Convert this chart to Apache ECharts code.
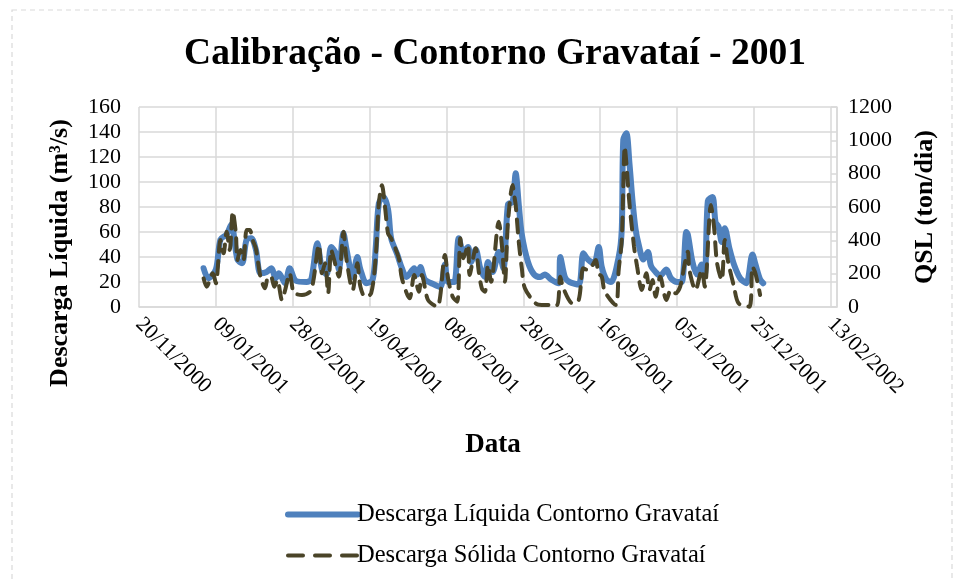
<!DOCTYPE html>
<html>
<head>
<meta charset="utf-8">
<script src="https://cdn.jsdelivr.net/npm/echarts@6/dist/echarts.min.js"></script>
<style>
  html, body { margin: 0; padding: 0; background: #fff; }
  #chart { width: 960px; height: 581px; }
</style>
</head>
<body>
<div id="chart"></div>
<script>
// x values are day of year 2001 (1 = 01/01/2001)
var qDay = [1, 4, 9, 12, 16, 19, 23, 26, 29, 32, 35, 38, 42, 45, 48, 50, 54, 57, 61, 68,
  71, 75, 78, 81, 84, 87, 89, 92, 94, 98, 101, 103, 107, 111, 113, 115, 118, 121, 123, 127,
  130, 133, 138, 140, 142, 145, 151, 155, 158, 160, 164, 167, 170, 173, 175, 178, 181, 184, 186, 189,
  193, 196, 199, 202, 204, 206, 208, 212, 216, 220, 223, 227, 232, 233, 236, 239, 245, 248, 251, 255,
  258, 260, 263, 266, 271, 273, 274, 276, 278, 280, 282, 284, 287, 290, 292, 295, 298, 302, 305, 309,
  312, 315, 316, 319, 322, 325, 327, 329, 332, 334, 336, 338, 340, 343, 346, 350, 354, 358, 360, 363, 365];
var qValue = [31, 23, 30, 54, 58, 66, 38, 35, 54, 55, 46, 27, 28, 31, 23, 27, 19, 31, 21, 20,
  22, 51, 30, 26, 48, 43, 30, 59, 46, 24, 40, 30, 19, 22, 48, 83, 88, 78, 55, 42,
  31, 24, 31, 26, 32, 22, 18, 16, 34, 20, 20, 55, 44, 48, 36, 46, 31, 24, 36, 28,
  44, 31, 82, 84, 107, 82, 58, 36, 26, 24, 26, 22, 19, 40, 24, 20, 18, 43, 38, 35,
  48, 32, 22, 20, 40, 62, 134, 139, 115, 85, 62, 50, 38, 44, 33, 28, 25, 30, 23, 20,
  20, 60, 58, 36, 26, 34, 26, 85, 88, 68, 64, 52, 63, 47, 34, 23, 19, 42, 34, 22, 19];

var qslDay = [1, 3, 7, 9, 12, 14, 16, 18, 20, 22, 23, 25, 27, 29, 31, 33, 35, 38, 41, 43,
  45, 47, 49, 52, 54, 57, 59, 60, 65, 71, 76, 78, 80, 82, 84, 86, 89, 92, 94, 98,
  101, 103, 106, 110, 113, 115, 117, 119, 121, 123, 128, 130, 135, 138, 141, 143, 147, 153, 158, 160,
  163, 166, 168, 170, 173, 174, 178, 180, 182, 184, 186, 188, 193, 195, 197, 199, 202, 203, 204, 206,
  208, 210, 217, 221, 227, 231, 233, 235, 241, 245, 248, 251, 254, 256, 258, 260, 262, 269, 271, 273,
  275, 276, 278, 281, 283, 286, 289, 291, 293, 295, 298, 302, 305, 308, 311, 314, 316, 317, 321, 325,
  327, 331, 333, 335, 338, 340, 342, 346, 349, 356, 358, 360, 363];
var qslValue = [172, 122, 202, 142, 402, 322, 452, 342, 572, 442, 282, 342, 282, 462, 462, 400, 352, 182, 112, 182,
  180, 122, 160, 42, 100, 202, 102, 82, 72, 102, 372, 202, 262, 82, 342, 280, 182, 452, 282, 102,
  262, 122, 62, 82, 302, 622, 730, 602, 440, 412, 292, 172, 52, 192, 92, 192, 42, 2, 312, 172,
  62, 32, 412, 292, 372, 192, 352, 212, 112, 92, 252, 152, 512, 372, 152, 512, 732, 672, 612, 392,
  232, 112, 22, 12, 12, 12, 182, 112, 22, 42, 232, 222, 252, 282, 200, 182, 92, 12, 222, 402,
  962, 862, 622, 362, 242, 102, 202, 102, 162, 62, 182, 42, 102, 82, 122, 262, 332, 222, 102, 222,
  122, 612, 482, 262, 162, 402, 280, 122, 22, 2, 242, 200, 72];

var seriesNames = ['Descarga Líquida Contorno Gravataí', 'Descarga Sólida Contorno Gravataí'];

// axis counts days from 20/11/2000; 01/01/2001 is day 42
var axisStart = Date.UTC(2000, 10, 20);
var dayShift = 41;

function pairs(days, values) {
  return days.map(function (d, i) { return [d + dayShift, values[i]]; });
}

function fmtDate(v) {
  if (v % 50 !== 0) return '';
  var d = new Date(axisStart + v * 86400000);
  var dd = ('0' + d.getUTCDate()).slice(-2);
  var mm = ('0' + (d.getUTCMonth() + 1)).slice(-2);
  return dd + '/' + mm + '/' + d.getUTCFullYear();
}

var serif = 'Liberation Serif';
var blue = '#4f81bd';
var olive = '#4a4428';
var chartDom = document.getElementById('chart');
var myChart = echarts.init(chartDom);
var option = {
  animation: false,
  title: {
    text: 'Calibração - Contorno Gravataí - 2001',
    left: 490,
    textAlign: 'center',
    top: 30,
    textStyle: { fontFamily: serif, fontSize: 37.5, fontWeight: 'bold', color: '#000' }
  },
  grid: { left: 139, right: 123, top: 107, bottom: 274 },
  legend: {
    orient: 'vertical',
    left: 280,
    top: 497,
    itemWidth: 70,
    itemHeight: 20,
    itemGap: 16,
    itemStyle: { opacity: 0 },
    textStyle: { fontFamily: serif, fontSize: 24.5, color: '#000', padding: [0, 0, 0, -6] },
    data: [
      { name: seriesNames[0], lineStyle: { width: 6, color: blue } },
      { name: seriesNames[1], lineStyle: { width: 4, color: olive, type: [15, 12] } }
    ]
  },
  xAxis: {
    type: 'value',
    min: 0,
    max: 454,
    interval: 50,
    name: 'Data',
    nameLocation: 'middle',
    nameGap: 125,
    nameTextStyle: { fontFamily: serif, fontSize: 27, fontWeight: 'bold', color: '#000', padding: [0, 0, 0, 10] },
    axisLine: { lineStyle: { color: '#d9d9d9', width: 1.5 } },
    axisTick: { show: false },
    axisLabel: {
      rotate: -45,
      margin: 14,
      fontFamily: serif,
      fontSize: 21.5,
      color: '#000',
      showMaxLabel: false,
      formatter: fmtDate
    },
    splitLine: { show: true, lineStyle: { color: '#d9d9d9', width: 1.5 } }
  },
  yAxis: [
    {
      type: 'value',
      min: 0,
      max: 160,
      interval: 20,
      axisLine: { show: false },
      axisTick: { show: false },
      axisLabel: { margin: 18, fontFamily: serif, fontSize: 22, color: '#000' },
      splitLine: { lineStyle: { color: '#d9d9d9', width: 1.5 } }
    },
    {
      type: 'value',
      min: 0,
      max: 1200,
      interval: 200,
      position: 'right',
      name: 'QSL (ton/dia)',
      nameLocation: 'middle',
      nameGap: 75,
      nameRotate: 90,
      nameTextStyle: { fontFamily: serif, fontSize: 26, fontWeight: 'bold', color: '#000' },
      axisLine: { show: true, lineStyle: { color: '#d9d9d9', width: 1.5 } },
      axisTick: { show: true, inside: true, length: 6, lineStyle: { color: '#d9d9d9', width: 1.5 } },
      axisLabel: {
        margin: 11,
        fontFamily: serif,
        fontSize: 22,
        color: '#000',
        formatter: function (v) { return String(v); }
      },
      splitLine: { show: false }
    }
  ],
  graphic: [
    {
      type: 'rect',
      shape: { x: 12, y: 10, width: 940, height: 600 },
      style: { fill: 'none', stroke: '#d9d9d9', lineWidth: 1.2, lineDash: [5, 4] },
      silent: true
    },
    {
      type: 'text',
      x: 60,
      y: 253,
      rotation: Math.PI / 2,
      style: {
        text: 'Descarga Líquida (m³/s)',
        fontFamily: serif,
        fontSize: 26,
        fontWeight: 'bold',
        fill: '#000',
        align: 'center',
        verticalAlign: 'middle'
      }
    }
  ],
  series: [
    {
      name: seriesNames[0],
      type: 'line',
      yAxisIndex: 0,
      data: pairs(qDay, qValue),
      showSymbol: false,
      symbol: 'none',
      smooth: 0.3,
      color: blue,
      lineStyle: { width: 6, color: blue, cap: 'round', join: 'round' },
      z: 2
    },
    {
      name: seriesNames[1],
      type: 'line',
      yAxisIndex: 1,
      data: pairs(qslDay, qslValue),
      showSymbol: false,
      symbol: 'none',
      smooth: 0.3,
      color: olive,
      lineStyle: { width: 4, color: olive, type: [13, 9], cap: 'round' },
      z: 3
    }
  ]
};
option && myChart.setOption(option);
</script>
</body>
</html>
